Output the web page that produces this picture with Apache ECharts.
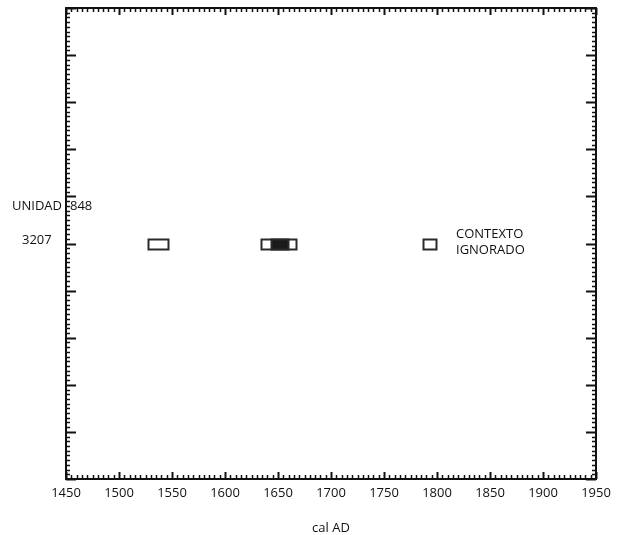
<!DOCTYPE html>
<html>
<head>
<meta charset="utf-8">
<script src="https://cdn.jsdelivr.net/npm/echarts@6/dist/echarts.min.js"></script>
<style>html,body{margin:0;padding:0;background:#fff}#c{width:621px;height:535px}</style>
</head>
<body>
<div id="c"></div>
<script>
// Calibrated ranges (cal AD)
var rangeStarts = [1527, 1634, 1787];
var rangeEnds = [1546, 1667, 1799];
var rangeLevel = [5, 5, 5];
var coreStarts = [1643];
var coreEnds = [1659];
var coreLevel = [5];
var xTicks = [1450, 1500, 1550, 1600, 1650, 1700, 1750, 1800, 1850, 1900, 1950];
var xMinorStep = 5;
var yMajorStep = 1;
var yMinorStep = 0.1;
var yMin = 0, yMax = 10;

var hollowData = rangeStarts.map(function (s, i) { return [s, rangeEnds[i], rangeLevel[i]]; });
var filledData = coreStarts.map(function (s, i) { return [s, coreEnds[i], coreLevel[i]]; });

var C = '#111';

function makeRender(fill) {
  return function (params, api) {
    var a = api.coord([api.value(0), api.value(2)]);
    var b = api.coord([api.value(1), api.value(2)]);
    var h = 10;
    return {
      type: 'rect',
      shape: { x: Math.round(a[0]) + 0.5, y: Math.round(a[1] - h / 2) + 0.5, width: Math.round(b[0] - a[0]), height: h },
      style: { fill: fill, stroke: '#2a2a2a', lineWidth: 2 }
    };
  };
}

function line(x1, y1, x2, y2, w) {
  return { type: 'line', shape: { x1: x1, y1: y1, x2: x2, y2: y2 }, style: { stroke: C, lineWidth: w } };
}

// frame ticks drawn through the axes' scales
function renderTicks(params, api) {
  var xMin = xTicks[0], xMax = xTicks[xTicks.length - 1];
  var children = [];
  var bottom = Math.round(api.coord([xMin, yMin])[1]);
  var top = Math.round(api.coord([xMin, yMax])[1]);
  var left = Math.round(api.coord([xMin, yMin])[0]);
  var right = Math.round(api.coord([xMax, yMin])[0]);
  var i, v, p, isMajor, len;
  var nx = Math.round((xMax - xMin) / xMinorStep);
  for (i = 0; i <= nx; i++) {
    v = xMin + i * xMinorStep;
    isMajor = xTicks.indexOf(v) >= 0;
    len = isMajor ? 7 : 4;
    p = Math.round(api.coord([v, yMin])[0]) + 0.5;
    children.push(line(p, bottom, p, bottom - len, isMajor ? 2 : 1.5));
    children.push(line(p, top, p, top + len, isMajor ? 2 : 1.5));
  }
  var ny = Math.round((yMax - yMin) / yMinorStep);
  for (i = 0; i <= ny; i++) {
    v = yMin + i * yMinorStep;
    isMajor = (i % Math.round(yMajorStep / yMinorStep)) === 0;
    len = isMajor ? 10 : 4;
    p = Math.round(api.coord([xMin, v])[1]) + 0.5;
    children.push(line(left, p, left + len, p, isMajor ? 2 : 1.5));
    children.push(line(right, p, right - len, p, isMajor ? 2 : 1.5));
  }
  return { type: 'group', children: children };
}

var axisLineStyle = { color: C, width: 2 };
var chart = echarts.init(document.getElementById('c'));
var txt = { fontFamily: 'Open Sans', fontSize: 13, fill: C };
chart.setOption({
  animation: false,
  grid: { left: 66, right: 25, top: 8, bottom: 56, outerBoundsMode: 'none', containLabel: false },
  xAxis: [{
    type: 'value', min: 1450, max: 1950, interval: 50,
    axisLine: { show: true, onZero: false, lineStyle: axisLineStyle },
    axisTick: { show: false }, splitLine: { show: false },
    axisLabel: { show: true, color: C, fontFamily: 'Open Sans', fontSize: 13, margin: 8,
      formatter: function (v) { return xTicks.indexOf(v) >= 0 ? String(v) : ''; } },
    name: 'cal AD', nameLocation: 'middle', nameGap: 43,
    nameTextStyle: { color: C, fontFamily: 'Open Sans', fontSize: 13 }
  }, {
    type: 'value', position: 'top', min: 1450, max: 1950, interval: 50,
    axisLine: { show: true, onZero: false, lineStyle: axisLineStyle },
    axisTick: { show: false }, splitLine: { show: false }, axisLabel: { show: false }
  }],
  yAxis: [{
    type: 'value', min: yMin, max: yMax, interval: yMajorStep,
    axisLine: { show: true, onZero: false, lineStyle: axisLineStyle },
    axisTick: { show: false }, splitLine: { show: false }, axisLabel: { show: false }
  }, {
    type: 'value', position: 'right', min: yMin, max: yMax, interval: yMajorStep,
    axisLine: { show: true, onZero: false, lineStyle: axisLineStyle },
    axisTick: { show: false }, splitLine: { show: false }, axisLabel: { show: false }
  }],
  graphic: [
    { type: 'text', left: 12, top: 200, style: Object.assign({ text: 'UNIDAD' }, txt) },
    { type: 'text', left: 70, top: 200, style: Object.assign({ text: '848' }, txt) },
    { type: 'text', left: 22, top: 234, style: Object.assign({ text: '3207' }, txt) },
    { type: 'text', left: 456, top: 228, style: Object.assign({ text: 'CONTEXTO' }, txt) },
    { type: 'text', left: 456, top: 244, style: Object.assign({ text: 'IGNORADO' }, txt) }
  ],
  series: [{
    type: 'custom', renderItem: renderTicks, data: [[1450, 0]], clip: false,
    xAxisIndex: 0, yAxisIndex: 0, silent: true, z: 1
  }, {
    type: 'custom', renderItem: makeRender('#fff'), data: hollowData,
    xAxisIndex: 0, yAxisIndex: 0,
    encode: { x: [0, 1], y: 2 }, z: 2
  }, {
    type: 'custom', renderItem: makeRender('#1a1a1a'), data: filledData,
    xAxisIndex: 0, yAxisIndex: 0,
    encode: { x: [0, 1], y: 2 }, z: 3
  }]
});
</script>
</body>
</html>
